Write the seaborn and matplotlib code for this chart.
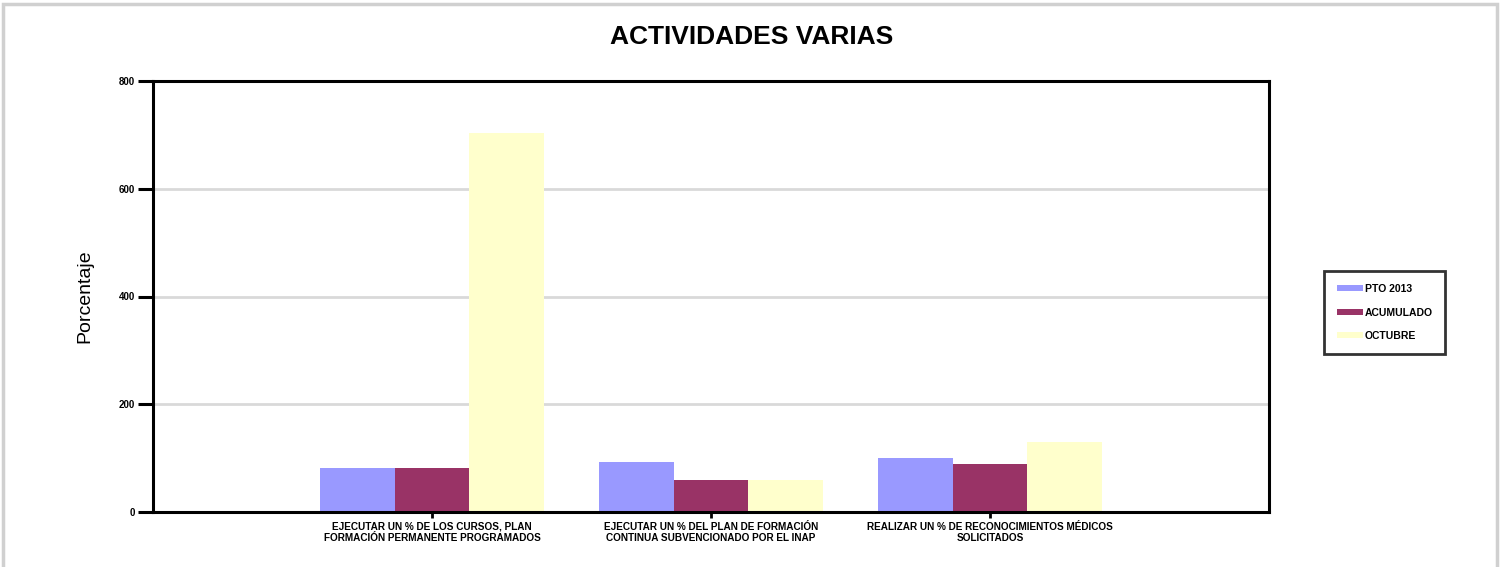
import matplotlib
matplotlib.use("Agg")
import matplotlib.pyplot as plt
import seaborn as sns
import pandas as pd
from matplotlib.patches import Rectangle

categories = [
    "EJECUTAR UN % DE LOS CURSOS, PLAN\nFORMACIÓN PERMANENTE PROGRAMADOS",
    "EJECUTAR UN % DEL PLAN DE FORMACIÓN\nCONTINUA SUBVENCIONADO POR EL INAP",
    "REALIZAR UN % DE RECONOCIMIENTOS MÉDICOS\nSOLICITADOS",
]
series_names = ["PTO 2013", "ACUMULADO", "OCTUBRE"]
pto_2013 = [82, 93, 100]
acumulado = [82, 60, 89]
octubre = [703, 60, 130]
colors = ["#9999FF", "#993366", "#FFFFCC"]
yticks = [0, 200, 400, 600, 800]

rows = []
for name, vals in zip(series_names, [pto_2013, acumulado, octubre]):
    for c, v in zip(categories, vals):
        rows.append({"cat": c, "serie": name, "val": v})
df = pd.DataFrame(rows)

sns.set_theme(style="white")
plt.rcParams["font.family"] = ["Liberation Sans", "DejaVu Sans"]
plt.rcParams["text.color"] = "black"
plt.rcParams["axes.labelcolor"] = "black"
plt.rcParams["xtick.color"] = "black"
plt.rcParams["ytick.color"] = "black"

fig = plt.figure(figsize=(15.04, 5.67), dpi=100)
ax = fig.add_axes([153 / 1504, 1 - 512 / 567, (1269 - 153) / 1504, (512 - 81) / 567])

sns.barplot(data=df, x="cat", y="val", hue="serie", order=categories,
            hue_order=series_names, palette=colors, width=0.8, saturation=1,
            ax=ax, linewidth=0, edgecolor="none", errorbar=None)

ax.set_xlim(-1, 3)
ax.set_ylim(0, 800)
ax.set_yticks(yticks)
ax.set_yticklabels([str(t) for t in yticks], fontsize=7, fontweight="bold")
ax.set_xticks(range(len(categories)))
ax.set_xticklabels(categories, fontsize=7.2, fontweight="bold", linespacing=1.1)
ax.tick_params(axis="y", length=11, width=2.2, direction="out", pad=2, left=True, colors="black")
ax.tick_params(axis="x", length=4, width=2, direction="out", pad=3, bottom=True, colors="black")
ax.set_xlabel("")
ax.set_ylabel("Porcentaje", fontsize=14, labelpad=18, color="black")
ax.yaxis.grid(True, color="#D9D9D9", linewidth=2)
ax.set_axisbelow(True)
for s in ["left", "bottom", "right", "top"]:
    ax.spines[s].set_visible(True)
    ax.spines[s].set_color("black")
    ax.spines[s].set_linewidth(2.2)

fig.suptitle("ACTIVIDADES VARIAS", fontsize=19, fontweight="bold", color="black",
             y=1 - 37 / 567, va="center")

handles, labels = ax.get_legend_handles_labels()
if ax.legend_:
    ax.legend_.remove()
leg = fig.legend(handles, labels, loc="center left", bbox_to_anchor=(1324 / 1504, 1 - 312.5 / 567),
                 frameon=True, fancybox=False, edgecolor="black",
                 prop={"weight": "bold", "size": 7.5}, handlelength=2.5, handleheight=0.5,
                 handletextpad=0.2, labelspacing=1.3, borderpad=1.2, borderaxespad=0)
leg.get_frame().set_linewidth(2)
for t in leg.get_texts():
    t.set_color("black")

fig.patches.append(Rectangle((3 / 1504, -0.05), 1494 / 1504, 1.05 - 4 / 567, transform=fig.transFigure,
                             fill=False, edgecolor="#D0D0D0", linewidth=2.5))

fig.savefig("out.png", dpi=100)
